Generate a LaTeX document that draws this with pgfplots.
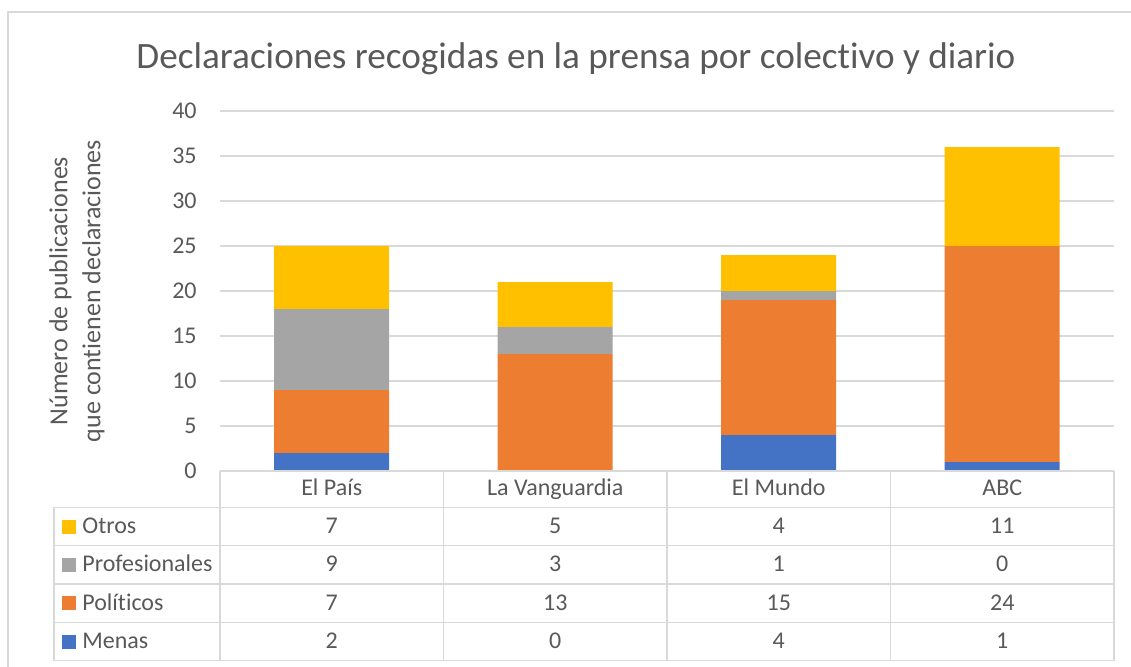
\documentclass[border=0pt]{standalone}
\usepackage{fontspec}
\setmainfont{Carlito}[Ligatures=NoCommon]
\usepackage{pgfplots}
\pgfplotsset{compat=1.18}
\definecolor{menas}{HTML}{4472C4}
\definecolor{politicos}{HTML}{ED7D31}
\definecolor{profes}{HTML}{A5A5A5}
\definecolor{otros}{HTML}{FFC000}
\definecolor{txt}{HTML}{595959}
\definecolor{gridc}{HTML}{D9D9D9}
\begin{document}
\begin{tikzpicture}
\path[use as bounding box] (-110pt,-97.5pt) rectangle (455.5pt,235.5pt);
\begin{axis}[
  at={(0,0)}, anchor=south west,
  scale only axis, width=447pt, height=180pt,
  xmin=-0.5, xmax=3.5, ymin=0, ymax=40,
  ybar stacked, bar width=57.5pt,
  xtick={0,1,2,3},
  xticklabels={El País, La Vanguardia, El Mundo, ABC},
  xticklabel style={anchor=base, yshift=-12pt, font=\fontsize{12}{14}\selectfont, text=txt},
  ytick={0,5,...,40},
  yticklabel style={anchor=east, inner sep=0pt, xshift=-11.5pt, font=\fontsize{12}{14}\selectfont, text=txt},
  /pgf/number format/assume math mode=true,
  ymajorgrids, grid style={draw=gridc, line width=0.6pt},
  axis line style={draw=none}, major tick length=0pt,
  clip=false,
  every axis title shift=0pt,
  title={Declaraciones recogidas en la prensa por colectivo y diario},
  title style={at={(axis description cs:0.3982,1.1194)}, anchor=base, font=\fontsize{18.6}{22}\selectfont, text=txt, inner sep=0pt},
  ylabel={Número de publicaciones\\que contienen declaraciones},
  ylabel style={at={(axis description cs:-0.16,0.5)}, anchor=center, align=center, font=\fontsize{13}{16.5}\selectfont, text=txt},
]
\addplot[fill=menas, draw=none] coordinates {(0,2) (1,0) (2,4) (3,1)};
\addplot[fill=politicos, draw=none] coordinates {(0,7) (1,13) (2,15) (3,24)};
\addplot[fill=profes, draw=none] coordinates {(0,9) (1,3) (2,1) (3,0)};
\addplot[fill=otros, draw=none] coordinates {(0,7) (1,5) (2,4) (3,11)};
\end{axis}
\begin{scope}[x=0.5pt,y=-0.5pt,shift={(-110pt,235.5pt)}]
  % chart border
  \draw[gridc, line width=0.6pt] (8,700) -- (8,12) -- (1150,12);
  % table grid
  \draw[gridc, line width=0.75pt] (220,471) -- (1114,471);
  \foreach \yy in {507.3,545.7,584,622.3,660.7}
    \draw[gridc, line width=0.75pt] (54,\yy) -- (1114,\yy);
  \foreach \xx in {220,443.5,667,890.5,1114}
    \draw[gridc, line width=0.75pt] (\xx,471) -- (\xx,660.7);
  \draw[gridc, line width=0.75pt] (54,507.3) -- (54,660.7);
  % row labels
  \tikzset{tt/.style={font=\fontsize{12}{14}\selectfont, text=txt, inner sep=0pt}}
  \fill[otros] (62,519.5) rectangle (76,533.5);
  \node[tt, anchor=base west] at (82,533.5) {Otros};
  \fill[profes] (62,557.9) rectangle (76,571.9);
  \node[tt, anchor=base west] at (82,571.9) {Profesionales};
  \fill[politicos] (62,596.2) rectangle (76,610.2);
  \node[tt, anchor=base west] at (82,610.2) {Políticos};
  \fill[menas] (62,634.5) rectangle (76,648.5);
  \node[tt, anchor=base west] at (82,648.5) {Menas};
  % values
  \foreach \xx/\a/\b/\c/\d in {331.75/7/9/7/2, 555.25/5/3/13/0, 778.75/4/1/15/4, 1002.25/11/0/24/1}{
    \node[tt, anchor=base] at (\xx,533.5) {\a};
    \node[tt, anchor=base] at (\xx,571.9) {\b};
    \node[tt, anchor=base] at (\xx,610.2) {\c};
    \node[tt, anchor=base] at (\xx,648.5) {\d};
  }
\end{scope}
\end{tikzpicture}
\end{document}
